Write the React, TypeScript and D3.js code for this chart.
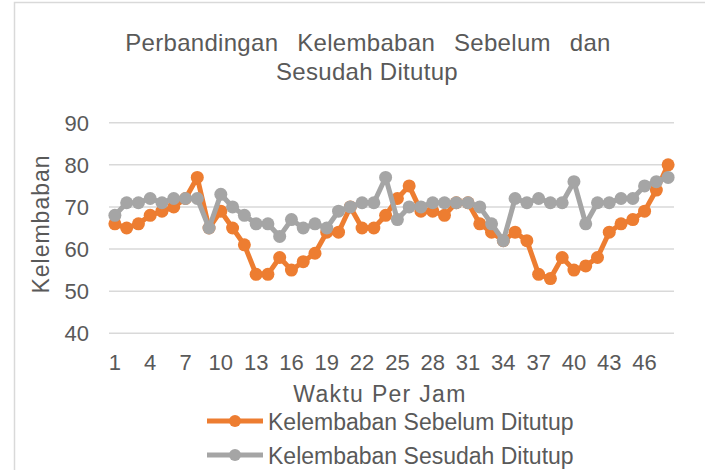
import React, { useRef, useEffect } from "react";
import * as d3 from "d3";

const hours = d3.range(1, 49);
const sebelum = [
  66, 65, 66, 68, 69, 70, 72, 77, 65, 69, 65, 61, 54, 54, 58, 55, 57, 59, 64, 64,
  70, 65, 65, 68, 72, 75, 69, 69, 68, 71, 71, 66, 64, 62, 64, 62, 54, 53, 58, 55,
  56, 58, 64, 66, 67, 69, 74, 80,
];
const sesudah = [
  68, 71, 71, 72, 71, 72, 72, 72, 65, 73, 70, 68, 66, 66, 63, 67, 65, 66, 65, 69,
  70, 71, 71, 77, 67, 70, 70, 71, 71, 71, 71, 70, 66, 62, 72, 71, 72, 71, 71, 76,
  66, 71, 71, 72, 72, 75, 76, 77,
];
const yTicks = [40, 50, 60, 70, 80, 90];
const seriesNames = ["Kelembaban Sebelum Ditutup", "Kelembaban Sesudah Ditutup"];
const colors = ["#ED7D31", "#A5A5A5"];

const W = 705;
const H = 470;
const FONT = "'Liberation Sans', Arial, sans-serif";
const TXT = "#595959";

const App = () => {
  const ref = useRef<SVGSVGElement>(null);

  useEffect(() => {
    const svg = d3.select(ref.current);
    svg.selectAll("*").remove();

    const left = 109;
    const right = 674;
    const top = 122.7;
    const bottom = 333.3;

    const x = d3
      .scaleBand<number>()
      .domain(hours)
      .range([left, right])
      .padding(0);
    const cx = (h: number) => (x(h) as number) + x.bandwidth() / 2;

    const y = d3.scaleLinear().domain([40, 90]).range([bottom, top]);

    // frame
    svg
      .append("path")
      .attr("d", `M14.5,${H} L14.5,2.5 L${W},2.5`)
      .attr("fill", "none")
      .attr("stroke", "#D9D9D9")
      .attr("stroke-width", 1.5);

    // gridlines
    svg
      .append("g")
      .selectAll("line")
      .data(yTicks)
      .join("line")
      .attr("x1", left)
      .attr("x2", right)
      .attr("y1", (d) => y(d))
      .attr("y2", (d) => y(d))
      .attr("stroke", "#D9D9D9")
      .attr("stroke-width", 1.5);

    // y tick labels
    svg
      .append("g")
      .selectAll("text")
      .data(yTicks)
      .join("text")
      .attr("x", 89)
      .attr("y", (d) => y(d) + 8)
      .attr("text-anchor", "end")
      .attr("font-family", FONT)
      .attr("font-size", 22)
      .attr("fill", TXT)
      .text((d) => d);

    // x tick labels
    svg
      .append("g")
      .selectAll("text")
      .data(hours.filter((h) => (h - 1) % 3 === 0))
      .join("text")
      .attr("x", (d) => cx(d))
      .attr("y", 370)
      .attr("text-anchor", "middle")
      .attr("font-family", FONT)
      .attr("font-size", 22)
      .attr("fill", TXT)
      .text((d) => d);

    // titles
    const title = svg
      .append("text")
      .attr("text-anchor", "middle")
      .attr("font-family", FONT)
      .attr("font-size", 24)
      .attr("fill", TXT)
      .attr("letter-spacing", 0.3);
    title
      .append("tspan")
      .attr("x", 368)
      .attr("y", 51)
      .attr("word-spacing", 12)
      .text("Perbandingan Kelembaban Sebelum dan");
    title.append("tspan").attr("x", 367).attr("y", 80).text("Sesudah Ditutup");

    svg
      .append("text")
      .attr("x", 380)
      .attr("y", 402)
      .attr("text-anchor", "middle")
      .attr("font-family", FONT)
      .attr("font-size", 23)
      .attr("letter-spacing", 1.3)
      .attr("fill", TXT)
      .text("Waktu Per Jam");

    svg
      .append("text")
      .attr("transform", `translate(49,224) rotate(-90)`)
      .attr("text-anchor", "middle")
      .attr("font-family", FONT)
      .attr("font-size", 23)
      .attr("letter-spacing", 1)
      .attr("fill", TXT)
      .text("Kelembaban");

    // series
    const line = d3
      .line<number>()
      .x((_, i) => cx(hours[i]))
      .y((d) => y(d));

    [sebelum, sesudah].forEach((vals, s) => {
      const g = svg.append("g");
      g.append("path")
        .attr("d", line(vals))
        .attr("fill", "none")
        .attr("stroke", colors[s])
        .attr("stroke-width", 5)
        .attr("stroke-linejoin", "round");
      g.selectAll("circle")
        .data(vals)
        .join("circle")
        .attr("cx", (_, i) => cx(hours[i]))
        .attr("cy", (d) => y(d))
        .attr("r", 6.5)
        .attr("fill", colors[s]);
    });

    // legend
    const lg = svg
      .append("g")
      .selectAll("g")
      .data(seriesNames)
      .join("g")
      .attr("transform", (_, i) => `translate(0,${421 + i * 34})`);
    lg.append("line")
      .attr("x1", 207)
      .attr("x2", 263)
      .attr("stroke", (_, i) => colors[i])
      .attr("stroke-width", 5);
    lg.append("circle")
      .attr("cx", 235)
      .attr("r", 6)
      .attr("fill", (_, i) => colors[i]);
    lg.append("text")
      .attr("x", 268)
      .attr("y", 9)
      .attr("font-family", FONT)
      .attr("font-size", 23)
      .attr("fill", TXT)
      .text((d) => d);
  }, []);

  return (
    <svg
      ref={ref}
      width={W}
      height={H}
      style={{ position: "absolute", left: 0, top: 0, background: "#fff" }}
    />
  );
};

export default App;
